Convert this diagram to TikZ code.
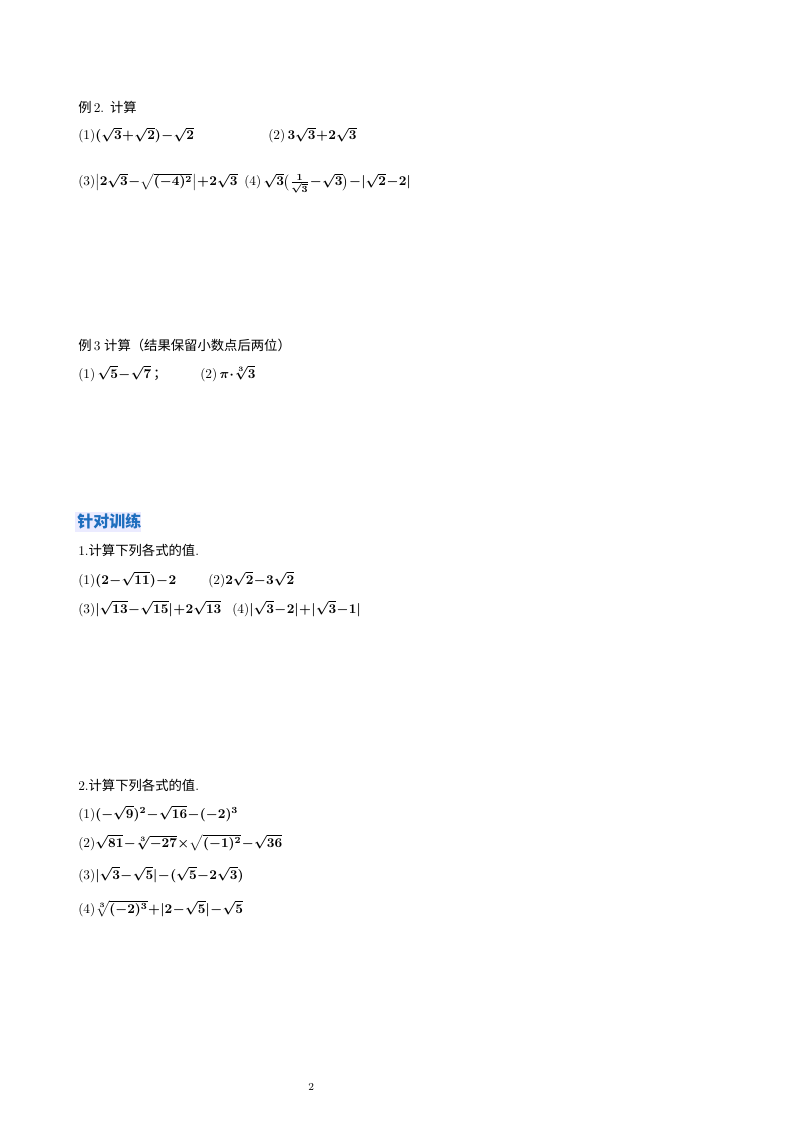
\documentclass[tikz,border=0pt]{standalone}
\usepackage{amsmath}
\usepackage{fontspec}
\newfontfamily\cjk{Noto Sans CJK SC}
\begin{document}
\medmuskip=0.5mu plus 1mu
\thickmuskip=1mu plus 1mu
\begin{tikzpicture}[x=0.75pt,y=-0.75pt,
  t/.style={anchor=base west,inner sep=0pt,font=\fontsize{10}{12}\selectfont\boldmath}]
\useasboundingbox (0,0) rectangle (800,1134);
\fill[white] (0,0) rectangle (800,1134);
\node[t] (h2) at (78,113) {{\cjk 例}\,2. {\cjk 计算}};
\node[t] (a1) at (78,140) {(1)$(\sqrt3+\sqrt2)-\sqrt2$};
\node[t] (a2) at (268,140) {(2)\,$3\sqrt3+2\sqrt3$};
\node[t] (a3) at (78,186) {(3)$\bigl|2\sqrt3-\sqrt{(-4)^2}\bigr|+2\sqrt3$};
\node[t] (a4) at (244,186) {(4)\,$\sqrt3\bigl(\tfrac{1}{\sqrt3}-\sqrt3\bigr)-|\sqrt2-2|$};
\node[t] (h3) at (78,350) {{\cjk 例}\,3\;{\cjk 计算（结果保留小数点后两位）}};
\node[t] (b1) at (78,378) {(1)\,$\sqrt5-\sqrt7$\,{\cjk ；}};
\node[t] (b2) at (200,378) {(2)\,$\pi\cdot\sqrt[3]{3}$};
\fill[blue!8] (75,512) rectangle (141,532);
\node[t,font=\fontsize{12}{14}\selectfont\cjk\bfseries,text={rgb,255:red,30;green,110;blue,190}] (h4) at (77,527) {针对训练};
\node[t] (c0) at (78,555) {1.{\cjk 计算下列各式的值}.};
\node[t] (c1) at (78,584) {(1)$(2-\sqrt{11})-2$};
\node[t] (c2) at (208,584) {(2)$2\sqrt2-3\sqrt2$};
\node[t] (c3) at (78,613) {(3)$|\sqrt{13}-\sqrt{15}|+2\sqrt{13}$};
\node[t] (c4) at (232,613) {(4)$|\sqrt3-2|+|\sqrt3-1|$};
\node[t] (d0) at (78,790) {2.{\cjk 计算下列各式的值}.};
\node[t] (d1) at (78,818) {(1)$(-\sqrt9)^2-\sqrt{16}-(-2)^3$};
\node[t] (d2) at (78,847) {(2)$\sqrt{81}-\sqrt[3]{-27}\times\sqrt{(-1)^2}-\sqrt{36}$};
\node[t] (d3) at (78,879) {(3)$|\sqrt3-\sqrt5|-(\sqrt5-2\sqrt3)$};
\node[t] (d4) at (78,913) {(4)$\sqrt[3]{(-2)^3}+|2-\sqrt5|-\sqrt5$};
\node[t,font=\fontsize{8}{10}\selectfont] (pn) at (308,1090) {2};
\end{tikzpicture}
\end{document}
